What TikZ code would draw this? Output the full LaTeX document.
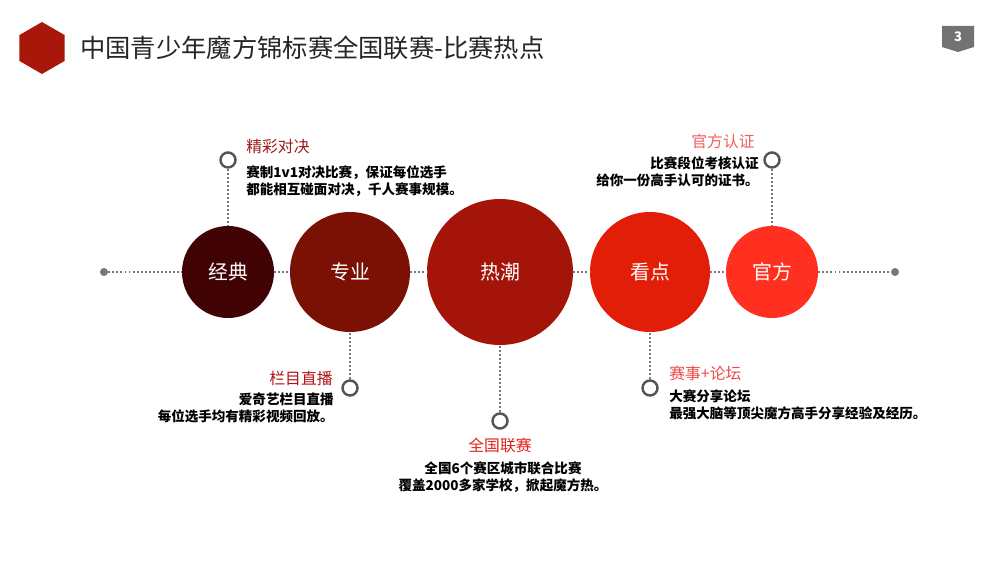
\documentclass[tikz,border=0pt]{standalone}
\usepackage{fontspec}
\setmainfont{Noto Sans CJK SC}
\usepackage{xcolor}
\usepackage{tikz}
\definecolor{hexred}{RGB}{168,24,10}
\definecolor{titlegray}{RGB}{38,38,38}
\definecolor{dotgray}{RGB}{120,120,120}
\definecolor{ringgray}{RGB}{85,85,85}
\definecolor{cjd}{RGB}{64,2,2}
\definecolor{czy}{RGB}{123,16,5}
\definecolor{crc}{RGB}{165,20,9}
\definecolor{ckd}{RGB}{227,30,8}
\definecolor{cgf}{RGB}{255,48,32}
\usetikzlibrary{shapes.geometric, positioning}

\begin{document}
\begin{tikzpicture}[x=0.02cm, y=-0.02cm,
    ball/.style={circle, inner sep=0pt, text=white, font=\fontsize{11.3}{13}\selectfont},
    ring/.style={circle, draw=ringgray, line width=1.4pt, fill=white,
                 minimum size=0.3cm, inner sep=0pt},
    dotline/.style={dotgray, line width=1.3pt, dash pattern=on 1.1pt off 1.2pt},
    endpt/.style={circle, fill=dotgray, minimum size=0.16cm, inner sep=0pt},
    head/.style={font=\fontsize{9}{11}\selectfont, inner sep=0pt},
    body/.style={font=\fontsize{7.7}{9.7}\selectfont\bfseries, text=black, inner sep=0pt}
]
    \useasboundingbox[fill=white] (0,0) rectangle (1000,563);
    % header
    \node[regular polygon, regular polygon sides=6, rotate=30, fill=hexred,
          minimum size=1.04cm, inner sep=0pt] (hex) at (42,48) {};
    \node[anchor=west, text=titlegray, font=\fontsize{14.4}{16}\selectfont, inner sep=0pt]
          (title) at (80,48) {中国青少年魔方锦标赛全国联赛-比赛热点};
    \fill[fill=dotgray!95!black] (942,26) -- (974,26) -- (974,47) -- (958,52) -- (942,47) -- cycle;
    \node[text=white, font=\fontsize{7.5}{9}\selectfont\bfseries] (pg) at (958,37) {3};

    % main line
    \node[endpt] (ldot) at (104,272) {};
    \node[endpt] (rdot) at (895,272) {};
    \node[ball, fill=cjd, minimum size=1.84cm] (jd) at (228,272) {经典};
    \node[ball, fill=czy, minimum size=2.4cm]  (zy) at (350,272) {专业};
    \node[ball, fill=crc, minimum size=2.92cm] (rc) at (500,272) {热潮};
    \node[ball, fill=ckd, minimum size=2.4cm]  (kd) at (650,272) {看点};
    \node[ball, fill=cgf, minimum size=1.84cm] (gf) at (772,272) {官方};
    \draw[dotline] (ldot) -- (jd) -- (zy) -- (rc) -- (kd) -- (gf) -- (rdot);

    % callouts
    \node[ring] (r1) at (228,160) {};
    \node[ring] (r2) at (350,388) {};
    \node[ring] (r3) at (500,421) {};
    \node[ring] (r4) at (650,388) {};
    \node[ring] (r5) at (772,160) {};
    \draw[dotline] (r1) -- (jd);
    \draw[dotline] (r2) -- (zy);
    \draw[dotline] (r3) -- (rc);
    \draw[dotline] (r4) -- (kd);
    \draw[dotline] (r5) -- (gf);

    \node[head, anchor=west, text={rgb,255:red,160;green,26;blue,26}] (t1) at (246,147) {精彩对决};
    \node[body, anchor=west, align=left] (b1) at (246,181)
        {赛制1v1对决比赛，保证每位选手\\都能相互碰面对决，千人赛事规模。};
    \node[head, anchor=east, text={rgb,255:red,176;green,21;blue,21}] (t2) at (333,378) {栏目直播};
    \node[body, anchor=east, align=right] (b2) at (334,408)
        {爱奇艺栏目直播\\每位选手均有精彩视频回放。};
    \node[head, text={rgb,255:red,224;green,32;blue,26}] (t3) at (500,445) {全国联赛};
    \node[body, align=center] (b3) at (503,477)
        {全国6个赛区城市联合比赛\\覆盖2000多家学校，掀起魔方热。};
    \node[head, anchor=west, text={rgb,255:red,240;green,72;blue,72}] (t4) at (669,373) {赛事+论坛};
    \node[body, anchor=west, align=left] (b4) at (669,405)
        {大赛分享论坛\\最强大脑等顶尖魔方高手分享经验及经历。};
    \node[head, anchor=east, text={rgb,255:red,240;green,96;blue,96}] (t5) at (755,141) {官方认证};
    \node[body, anchor=east, align=right] (b5) at (759,172)
        {比赛段位考核认证\\给你一份高手认可的证书。};
\end{tikzpicture}
\end{document}
